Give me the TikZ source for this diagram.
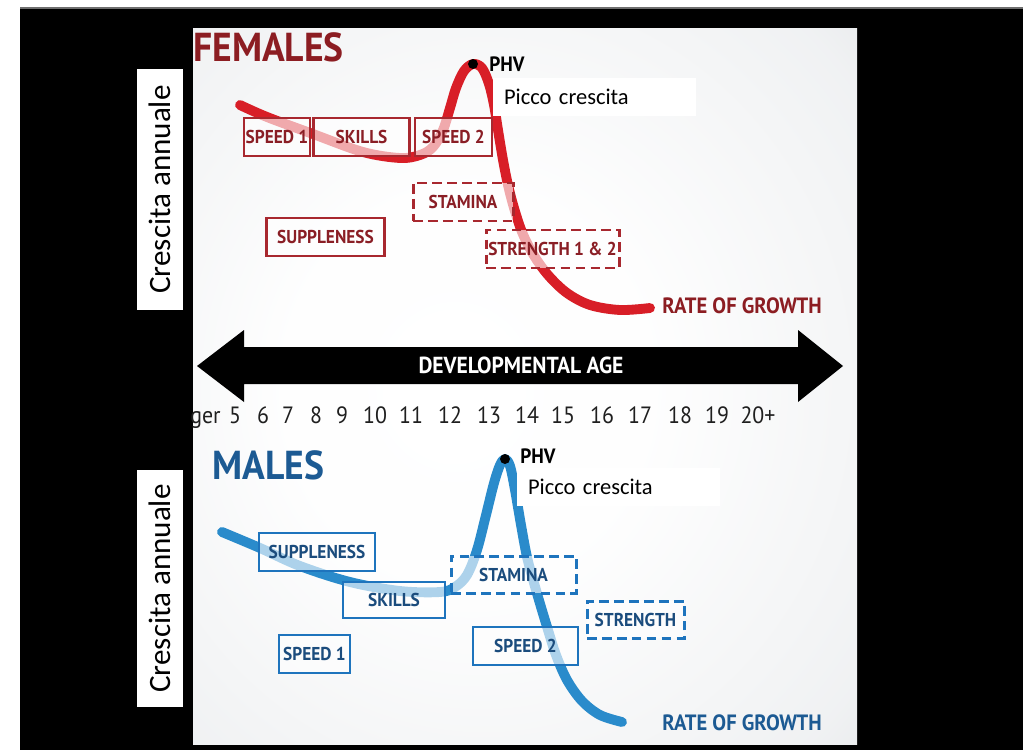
\documentclass[tikz,border=0pt]{standalone}
\usepackage{fontspec}
\setmainfont{Carlito}
\newfontfamily\condfont[FakeStretch=0.93]{PT Sans}
\definecolor{framegray}{HTML}{6E6E6E}
\definecolor{panelgray}{HTML}{D4D8DC}
\definecolor{femtitle}{HTML}{8C1D22}
\definecolor{femline}{HTML}{A8282F}
\definecolor{femtext}{HTML}{8A1E25}
\definecolor{femcurve}{HTML}{D81E27}
\definecolor{maletitle}{HTML}{1C5A93}
\definecolor{maleline}{HTML}{1E74BD}
\definecolor{maletext}{HTML}{1B4C7D}
\definecolor{malecurve}{HTML}{2A8BCB}
\pgfdeclareradialshading{panel shade}{\pgfpoint{-6bp}{0bp}}{color(0bp)=(white); color(14bp)=(white!97!panelgray); color(34bp)=(white!65!panelgray); color(50bp)=(panelgray)}
\tikzset{box size/.style 2 args={minimum width=#1*0.02cm, minimum height=#2*0.02cm},
my box/.style={line width=1.5pt, fill=white, fill opacity=0.62, text opacity=1, inner sep=0pt, font=\condfont\bfseries\fontsize{10.6}{12}\selectfont},
female box/.style={my box, draw=femline, text=femtext},
male box/.style={my box, draw=maleline, text=maletext},
dashed box/.style={line width=1.7pt, dash pattern=on 5.5pt off 3pt},
picco box/.style={fill=white, inner xsep=0.22cm, inner ysep=0pt, align=left, font=\fontsize{12.8}{14}\selectfont},
axis label/.style={fill=white, inner sep=0pt, rotate=90, font=\fontsize{17.7}{20}\selectfont},
title text/.style={anchor=west, inner sep=0pt, font=\condfont\bfseries\fontsize{23}{26}\selectfont},
rate text/.style={anchor=west, inner sep=0pt, font=\condfont\bfseries\fontsize{12.6}{14}\selectfont},
phv text/.style={anchor=west, inner sep=0pt, font=\condfont\bfseries\fontsize{11.8}{13}\selectfont},
phv dot/.style={circle, fill=black, inner sep=0pt, minimum size=0.2cm},
age text/.style={inner sep=0pt, text=black!88, font=\condfont\fontsize{13.4}{15}\selectfont},
rate curve/.style={line width=5.6pt, line cap=round, line join=round},}

\begin{document}
\begin{tikzpicture}[x=0.02cm, y=-0.02cm]
\useasboundingbox (0,0) rectangle (1023,750);
% frame and panel
\fill[white] (0,0) rectangle (1023,750);
\fill[framegray] (20,7) rectangle (1023,9);
\fill[black] (20,9) rectangle (1023,750);
\shade[shading=panel shade] (193,29) rectangle (857,744);

% side labels
\node[axis label, box size={241}{46}] (ylabF) at (160,189.5) {Crescita annuale};
\node[axis label, box size={237}{46}] (ylabM) at (160,588.5) {Crescita annuale};

% developmental age arrow
\fill[black] (197,366) -- (244,330) -- (244,347) -- (798,347) -- (798,330) -- (843,366)
  -- (798,402) -- (798,384) -- (244,384) -- (244,402) -- cycle;
\node[inner sep=0pt, text=white, font=\condfont\bfseries\fontsize{13.2}{15}\selectfont] (devage) at (521,365) {DEVELOPMENTAL AGE};

% ages
\node[age text, anchor=base east] (ageger) at (221,423.5) {ger};
\node[age text] (age05) at (235,415) {5};
\node[age text] (age06) at (263,415) {6};
\node[age text] (age07) at (288,415) {7};
\node[age text] (age08) at (316,415) {8};
\node[age text] (age09) at (342,415) {9};
\node[age text] (age10) at (375,415) {10};
\node[age text] (age11) at (411,415) {11};
\node[age text] (age12) at (450,415) {12};
\node[age text] (age13) at (489,415) {13};
\node[age text] (age14) at (527,415) {14};
\node[age text] (age15) at (563,415) {15};
\node[age text] (age16) at (602,415) {16};
\node[age text] (age17) at (640,415) {17};
\node[age text] (age18) at (680,415) {18};
\node[age text] (age19) at (717,415) {19};
\node[age text] (age20) at (758,415) {20+};

% FEMALES
\draw[rate curve, femcurve] plot[smooth, tension=0.55] coordinates {(240,105) (267,117) (313,134)
  (363,152) (400,158) (420,155) (433,147) (443,130) (450,108) (456,88) (464,71) (473,64) (482,68)
  (489,84) (494,105) (498,130) (503,160) (508,185) (514,208) (522,232) (533,254) (548,275)
  (567,293) (590,305) (620,310) (650,308)};
\node[female box, box size={66}{38}] (speedF1) at (277,137) {SPEED 1};
\node[female box, box size={96}{38}] (skillsF) at (361.5,137) {SKILLS};
\node[female box, box size={77}{38}] (speedF2) at (453.5,137) {SPEED 2};
\node[female box, dashed box, box size={100}{38}] (staminaF) at (463,202) {STAMINA};
\node[female box, box size={118}{38}] (supplenessF) at (325.5,237) {SUPPLENESS};
\node[female box, dashed box, box size={133}{38}] (strengthF) at (552.5,249) {STRENGTH 1 \& 2};
\node[picco box, text width=3.62cm, minimum height=0.76cm] (piccoF) at (594.5,97) {Picco crescita};
\node[phv dot] (phvF) at (473,64) {};
\node[phv text] (phvtextF) at (489,64) {PHV};
\node[title text, text=femtitle] (titleF) at (193,47) {FEMALES};
\node[rate text, text=femtitle] (rateF) at (662,306) {RATE OF GROWTH};

% MALES
\draw[rate curve, malecurve] plot[smooth, tension=0.55] coordinates {(222,532) (260,548) (300,566)
  (350,582) (400,591) (440,592) (455,587) (467,575) (477,550) (486,515) (494,483) (500,465)
  (505,459) (510,466) (515,490) (521,525) (527,557) (534,583) (541,607) (548,630) (556,655)
  (567,680) (582,701) (600,715) (622,722)};
\node[male box, box size={116}{38}] (supplenessM) at (317,552) {SUPPLENESS};
\node[male box, box size={102}{36}] (skillsM) at (394,600) {SKILLS};
\node[male box, dashed box, box size={125}{37}] (staminaM) at (513.5,574.5) {STAMINA};
\node[male box, dashed box, box size={97}{37}] (strengthM) at (635.5,619.5) {STRENGTH};
\node[male box, box size={71}{38}] (speedM1) at (314.5,654) {SPEED 1};
\node[male box, box size={105}{38}] (speedM2) at (525.5,646) {SPEED 2};
\node[picco box, text width=3.62cm, minimum height=0.76cm] (piccoM) at (618.5,487) {Picco crescita};
\node[phv dot] (phvM) at (505,459) {};
\node[phv text] (phvtextM) at (520,456) {PHV};
\node[title text, text=maletitle] (titleM) at (212,465.5) {MALES};
\node[rate text, text=maletitle] (rateM) at (662,723) {RATE OF GROWTH};
\end{tikzpicture}
\end{document}
